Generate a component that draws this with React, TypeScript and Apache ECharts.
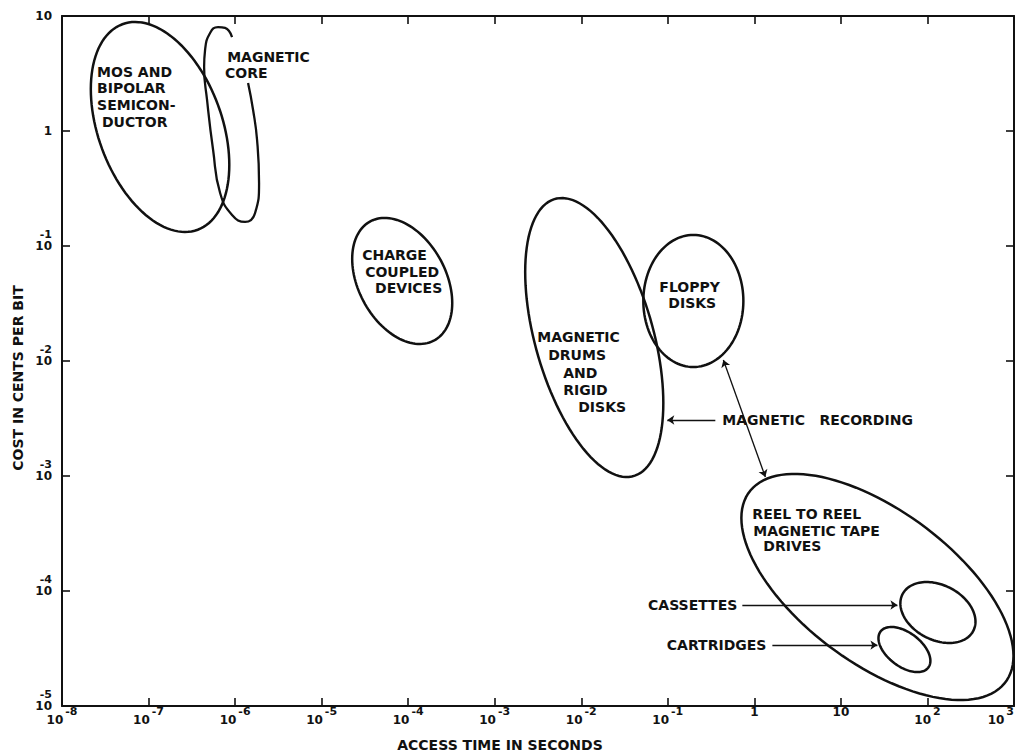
import React, { useEffect, useRef } from "react";
import * as echarts from "echarts";

// ---- axes (log10 exponents) ----
const accessTimeExponents = [-8, -7, -6, -5, -4, -3, -2, -1, 0, 1, 2, 3];
const costExponents = [-5, -4, -3, -2, -1, 0, 1];

// ---- technology regions (log10 seconds, log10 cents/bit) ----
const regionNames = [
  "MOS and bipolar semiconductor",
  "Charge coupled devices",
  "Magnetic drums and rigid disks",
  "Floppy disks",
  "Reel to reel magnetic tape drives",
  "Cassettes",
  "Cartridges",
];
const regionCenterX = [-6.867, -4.069, -1.85, -0.705, 1.422, 2.121, 1.734];
const regionCenterY = [0.035, -1.304, -1.796, -1.478, -3.965, -4.187, -4.509];
const regionHalfWidth = [0.8, 0.578, 0.798, 0.578, 1.572, 0.434, 0.3];
const regionHalfHeight = [0.913, 0.548, 1.213, 0.574, 0.983, 0.265, 0.196];
const regionTilt = [-0.36, -0.35, -0.47, 0, -0.61, -0.3, -0.5];

// ---- magnetic core outline (open curve) ----
const coreX = [-6.035, -6.116, -6.197, -6.289, -6.347, -6.358, -6.324, -6.254, -6.173, -6.035, -5.884, -5.769, -5.723, -5.746, -5.792, -5.85];
const coreY = [0.817, 0.896, 0.904, 0.852, 0.704, 0.557, 0.27, -0.165, -0.539, -0.73, -0.791, -0.713, -0.452, -0.078, 0.183, 0.417];

// ---- annotation text lines ----
const labelText = [
  "MOS AND", "BIPOLAR", "SEMICON-", "DUCTOR",
  "MAGNETIC", "CORE",
  "CHARGE", "COUPLED", "DEVICES",
  "MAGNETIC", "DRUMS", "AND", "RIGID", "DISKS",
  "FLOPPY", "DISKS",
  "MAGNETIC   RECORDING",
  "REEL TO REEL", "MAGNETIC TAPE", "DRIVES",
  "CASSETTES", "CARTRIDGES",
];
const labelX = [
  -7.595, -7.595, -7.595, -7.538,
  -6.092, -6.116,
  -4.532, -4.497, -4.382,
  -2.509, -2.382, -2.208, -2.208, -2.035,
  -1.098, -0.994,
  -0.37,
  -0.023, -0.012, 0.104,
  -0.197, 0.139,
];
const labelY = [
  0.513, 0.374, 0.226, 0.078,
  0.643, 0.504,
  -1.078, -1.226, -1.365,
  -1.791, -1.948, -2.104, -2.252, -2.4,
  -1.357, -1.496,
  -2.513,
  -3.33, -3.478, -3.609,
  -4.122, -4.47,
];
const labelAlign = [
  "left", "left", "left", "left",
  "left", "left",
  "left", "left", "left",
  "left", "left", "left", "left", "left",
  "left", "left",
  "left",
  "left", "left", "left",
  "right", "right",
];

// ---- arrows: from / to points ----
const singleArrowFrom = [[-0.451, -2.513], [-0.139, -4.122], [0.208, -4.47]];
const singleArrowTo = [[-1.006, -2.513], [1.653, -4.122], [1.422, -4.47]];
const doubleArrowFrom = [[-0.358, -1.991]];
const doubleArrowTo = [[0.127, -3.009]];

const INK = "#111111";
const FONT = "DejaVu Sans";

export default function App() {
  const ref = useRef<HTMLDivElement>(null);

  useEffect(() => {
    if (!ref.current) return;
    const chart = echarts.init(ref.current, undefined, { renderer: "svg" });

    const xFormatter = (v: number) => {
      const n = Math.round(v);
      if (n === 0) return "{b|1}";
      if (n === 1) return "{b|10}";
      return `{b|10}{e|${n}}`;
    };
    const yFormatter = (v: number) => {
      const n = Math.round(v);
      if (n === 0) return "{b|1}";
      if (n === 1) return "{b|10}";
      return `{e|${n}}\n{b|10}\n{s| }`;
    };

    const axisCommon = {
      type: "value" as const,
      interval: 1,
      splitLine: { show: false },
      axisLine: { show: true, onZero: false, lineStyle: { color: INK, width: 2 } },
      axisTick: { show: true, inside: true, length: 8, lineStyle: { color: INK, width: 1.6 } },
    };

    const ellipseData = regionNames.map((name, i) => ({
      name,
      value: [regionCenterX[i], regionCenterY[i], regionHalfWidth[i], regionHalfHeight[i], regionTilt[i]],
    }));

    chart.setOption({
      animation: false,
      backgroundColor: "#ffffff",
      grid: { left: 62, right: 6, top: 16, bottom: 47, containLabel: false, outerBoundsMode: "none" },
      xAxis: [
        {
          ...axisCommon,
          min: accessTimeExponents[0],
          max: accessTimeExponents[accessTimeExponents.length - 1],
          position: "bottom",
          axisLabel: {
            margin: 0,
            alignMaxLabel: "right",
            formatter: xFormatter,
            rich: {
              b: { fontSize: 12, fontWeight: "bold", fontFamily: FONT, color: INK },
              e: { fontSize: 11, fontWeight: "bold", fontFamily: FONT, color: INK, padding: [0, 0, 16, 2] },
            },
          },
        },
        {
          ...axisCommon,
          min: accessTimeExponents[0],
          max: accessTimeExponents[accessTimeExponents.length - 1],
          position: "top",
          axisLabel: { show: false },
        },
      ],
      yAxis: [
        {
          ...axisCommon,
          min: costExponents[0],
          max: costExponents[costExponents.length - 1],
          position: "left",
          axisLabel: {
            margin: 10,
            align: "right",
            formatter: yFormatter,
            rich: {
              b: { fontSize: 12, fontWeight: "bold", fontFamily: FONT, color: INK, lineHeight: 13 },
              e: { fontSize: 11, fontWeight: "bold", fontFamily: FONT, color: INK, lineHeight: 11 },
              s: { fontSize: 11, fontFamily: FONT, color: INK, lineHeight: 11 },
            },
          },
        },
        {
          ...axisCommon,
          min: costExponents[0],
          max: costExponents[costExponents.length - 1],
          position: "right",
          axisLabel: { show: false },
        },
      ],
      graphic: [
        {
          type: "text",
          x: 500,
          y: 745,
          style: {
            text: "ACCESS TIME IN SECONDS",
            fontSize: 14,
            fontWeight: "bold",
            fontFamily: FONT,
            fill: INK,
            align: "center",
            verticalAlign: "middle",
          },
        },
        {
          type: "text",
          x: 18,
          y: 378,
          rotation: Math.PI / 2,
          style: {
            text: "COST IN CENTS PER BIT",
            fontSize: 14,
            fontWeight: "bold",
            fontFamily: FONT,
            fill: INK,
            align: "center",
            verticalAlign: "middle",
          },
        },
      ],
      series: [
        {
          type: "custom",
          name: "Regions",
          coordinateSystem: "cartesian2d",
          encode: { x: 0, y: 1 },
          silent: true,
          clip: false,
          data: ellipseData,
          renderItem: (params: any, api: any) => {
            const cx = api.value(0);
            const cy = api.value(1);
            const w = api.value(2);
            const h = api.value(3);
            const k = api.value(4);
            const phi = Math.acos(k);
            const pts: number[][] = [];
            const N = 120;
            for (let j = 0; j < N; j++) {
              const t = (j / N) * Math.PI * 2;
              pts.push(api.coord([cx + w * Math.cos(t), cy + h * Math.cos(t - phi)]));
            }
            return {
              type: "polygon",
              shape: { points: pts },
              style: { fill: "none", stroke: INK, lineWidth: 2.5 },
            };
          },
        },
        {
          type: "line",
          name: "Magnetic core",
          data: coreX.map((x, i) => [x, coreY[i]]),
          smooth: 0.5,
          symbol: "none",
          silent: true,
          lineStyle: { color: INK, width: 2.3 },
        },
        {
          type: "lines",
          name: "Pointers",
          coordinateSystem: "cartesian2d",
          symbol: ["none", "arrow"],
          symbolSize: 7,
          silent: true,
          lineStyle: { color: INK, width: 1.3, opacity: 1 },
          data: singleArrowFrom.map((f, i) => ({ coords: [f, singleArrowTo[i]] })),
        },
        {
          type: "lines",
          name: "Recording pointers",
          coordinateSystem: "cartesian2d",
          symbol: ["arrow", "arrow"],
          symbolSize: 7,
          silent: true,
          lineStyle: { color: INK, width: 1.3, opacity: 1 },
          data: doubleArrowFrom.map((f, i) => ({ coords: [f, doubleArrowTo[i]] })),
        },
        {
          type: "custom",
          name: "Labels",
          coordinateSystem: "cartesian2d",
          encode: { x: 0, y: 1 },
          silent: true,
          clip: false,
          data: labelX.map((x, i) => [x, labelY[i]]),
          renderItem: (params: any, api: any) => {
            const i = params.dataIndex;
            const p = api.coord([api.value(0), api.value(1)]);
            return {
              type: "text",
              x: p[0],
              y: p[1],
              style: {
                text: labelText[i],
                fontSize: 14,
                fontWeight: "bold",
                fontFamily: FONT,
                fill: INK,
                align: labelAlign[i],
                verticalAlign: "middle",
              },
            };
          },
        },
      ],
    });

    return () => chart.dispose();
  }, []);

  return (
    <div
      ref={ref}
      style={{ position: "fixed", left: 0, top: 0, width: 1020, height: 753, background: "#fff" }}
    />
  );
}
